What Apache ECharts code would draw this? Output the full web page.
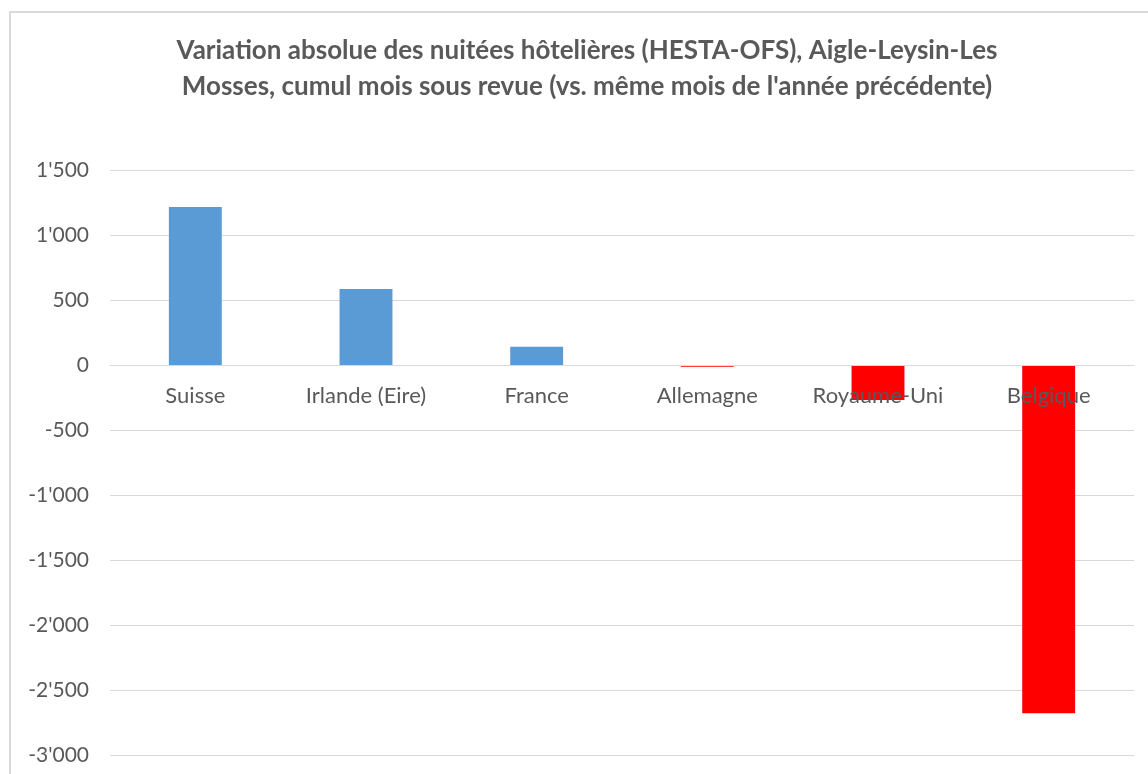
<!DOCTYPE html>
<html>
<head>
<meta charset="utf-8">
<script src="https://cdn.jsdelivr.net/npm/echarts@6/dist/echarts.min.js"></script>
<style>
html,body{margin:0;padding:0;background:#fff;}
#chart{width:1148px;height:774px;}
</style>
</head>
<body>
<div id="chart"></div>
<script>
const titleLines = [
  "Variation absolue des nuitées hôtelières (HESTA-OFS), Aigle-Leysin-Les",
  "Mosses, cumul mois sous revue (vs. même mois de l'année précédente)"
];
const categories = ["Suisse", "Irlande (Eire)", "France", "Allemagne", "Royaume-Uni", "Belgique"];
const values = [1215, 585, 141, -12, -268, -2675];
const yMin = -3000, yMax = 1500, yStep = 500;

const FONT = "Lato, 'Open Sans', sans-serif";
const W = 1148, H = 774;
const gridTop = 170, gridBottom = 18.5, gridLeft = 110, gridRight = 14;
const plotH = H - gridTop - gridBottom;
const zeroOffset = -plotH * (0 - yMin) / (yMax - yMin);

const chart = echarts.init(document.getElementById('chart'), null, {renderer: 'canvas'});
function fmt(v) {
  const s = Math.abs(v).toString().replace(/\B(?=(\d{3})+(?!\d))/g, "'");
  return (v < 0 ? '-' : '') + s;
}
chart.setOption({
  animation: false,
  backgroundColor: '#ffffff',
  graphic: [
    {type: 'rect', shape: {x: 10, y: 12, width: 1300, height: 900},
     style: {fill: 'none', stroke: '#d9d9d9', lineWidth: 2}, silent: true},
    {type: 'text', x: 587, y: 51,
     style: {text: titleLines[0], fill: '#595959', font: "bold 26px " + FONT, textAlign: 'center', textVerticalAlign: 'middle'}},
    {type: 'text', x: 587, y: 87,
     style: {text: titleLines[1], fill: '#595959', font: "bold 26px " + FONT, textAlign: 'center', textVerticalAlign: 'middle'}}
  ],
  grid: {left: gridLeft, right: gridRight, top: gridTop, bottom: gridBottom, containLabel: false, outerBoundsMode: 'none'},
  xAxis: {
    type: 'category',
    data: categories,
    position: 'bottom',
    offset: zeroOffset,
    z: 5,
    axisLine: {onZero: false, lineStyle: {color: '#d9d9d9', width: 1}},
    axisTick: {show: false},
    axisLabel: {color: '#595959', fontSize: 22, fontFamily: FONT, margin: 20, interval: 0}
  },
  yAxis: {
    type: 'value',
    min: yMin, max: yMax, interval: yStep,
    axisLine: {show: false},
    axisTick: {show: false},
    splitLine: {lineStyle: {color: '#d9d9d9', width: 1}},
    axisLabel: {color: '#595959', fontSize: 21, fontFamily: FONT, margin: 21, formatter: fmt}
  },
  series: [{
    type: 'bar',
    data: values,
    barWidth: '31%',
    z: 2,
    itemStyle: {color: p => p.value >= 0 ? '#5b9bd5' : '#ff0000'}
  }]
});
</script>
</body>
</html>
